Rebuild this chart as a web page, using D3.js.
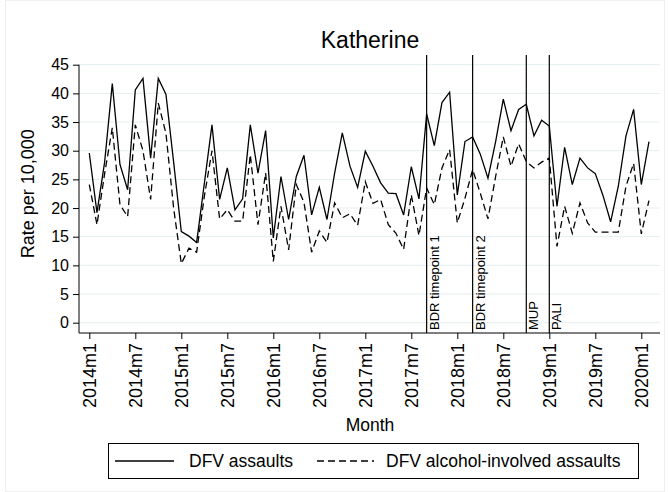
<!DOCTYPE html>
<html>
<head>
<meta charset="utf-8">
<script src="https://cdn.jsdelivr.net/npm/d3@7"></script>
<style>
  body { margin: 0; background: #fff; }
  text { font-family: "Liberation Sans", Arial, sans-serif; fill: #000; }
</style>
</head>
<body>
<script>
// monthly rates, 2014m1 .. 2020m2
const startYear = 2014;
const assaults = [
  29.6, 19.2, 28.0, 41.7, 27.6, 23.2, 40.6, 42.6, 28.7, 42.6, 39.8, 28.0,
  15.9, 15.1, 14.0, 24.2, 34.5, 21.5, 27.0, 19.7, 21.6, 34.5, 26.1, 33.5,
  14.8, 25.5, 18.0, 25.5, 29.2, 18.8, 23.6, 18.0, 26.1, 33.1, 27.3, 23.6,
  29.9, 27.3, 24.4, 22.6, 22.5, 18.8, 27.2, 21.6, 36.4, 30.9, 38.4, 40.2,
  22.3, 31.6, 32.4, 29.4, 25.2, 31.6, 39.0, 33.5, 37.2, 38.1, 32.6, 35.3,
  34.3, 20.3, 30.6, 24.1, 28.7, 27.0, 26.0, 22.2, 17.6, 23.8, 32.6, 37.2,
  24.1, 31.6
];
const alcohol = [
  24.1, 17.1, 26.0, 34.0, 20.6, 18.5, 34.5, 30.0, 21.5, 38.3, 33.0, 20.0,
  10.3, 13.0, 12.3, 22.0, 30.0, 18.1, 19.7, 17.7, 17.7, 29.3, 17.1, 26.1,
  10.7, 20.3, 12.7, 24.1, 21.0, 12.3, 16.0, 14.0, 20.9, 18.3, 19.0, 17.0,
  24.6, 20.8, 21.5, 17.1, 15.6, 12.8, 22.3, 15.2, 23.5, 20.6, 27.0, 30.2,
  17.4, 21.7, 26.7, 22.6, 18.1, 25.5, 32.4, 27.3, 31.2, 28.1, 27.0, 28.0,
  28.7, 13.3, 20.3, 15.6, 20.9, 17.4, 15.8, 15.8, 15.8, 15.8, 23.8, 27.8,
  15.5, 21.3
];
const yTicks = [0, 5, 10, 15, 20, 25, 30, 35, 40, 45];
const xTickMonths = [0, 6, 12, 18, 24, 30, 36, 42, 48, 54, 60, 66, 72];
const events = [
  { m: 44, label: "BDR timepoint 1" },
  { m: 50, label: "BDR timepoint 2" },
  { m: 57, label: "MUP" },
  { m: 60, label: "PALI" }
];

const width = 670, height = 492;
const plot = { left: 79, right: 660, top: 55, bottom: 333 };

const svg = d3.select("body").append("svg")
  .attr("width", width)
  .attr("height", height);

// faint outer graph region border
svg.append("rect")
  .attr("x", 5.5).attr("y", 0.5)
  .attr("width", width - 11).attr("height", height - 1)
  .attr("fill", "none").attr("stroke", "#f0f0f0");

const x = d3.scaleLinear().domain([0, 72]).range([89.3, 641.3]);
const y = d3.scaleLinear().domain([0, 45]).range([322.7, 64.7]);

const monthLabel = m => `${startYear + Math.floor(m / 12)}m${(m % 12) + 1}`;

// gridlines
svg.append("g")
  .selectAll("line")
  .data(yTicks)
  .join("line")
  .attr("x1", plot.left).attr("x2", plot.right)
  .attr("y1", d => y(d)).attr("y2", d => y(d))
  .attr("stroke", "#e6eef1")
  .attr("stroke-width", 1);

// y axis
const yAxis = d3.axisLeft(y).tickValues(yTicks).tickSize(6).tickPadding(4);
const gy = svg.append("g")
  .attr("transform", `translate(${plot.left},0)`)
  .call(yAxis);
gy.select(".domain").remove();
gy.selectAll("text").style("font-size", "16px").attr("font-family", null);
svg.append("line")
  .attr("x1", plot.left).attr("x2", plot.left)
  .attr("y1", y(45)).attr("y2", plot.bottom)
  .attr("stroke", "#000");

// x axis
const xAxis = d3.axisBottom(x).tickValues(xTickMonths).tickSize(6).tickPadding(4)
  .tickFormat(monthLabel);
const gx = svg.append("g")
  .attr("transform", `translate(0,${plot.bottom})`)
  .call(xAxis);
gx.select(".domain").attr("d", `M${plot.left},0H${plot.right}`);
gx.selectAll("text")
  .style("font-size", "18px")
  .attr("font-family", null)
  .attr("transform", "rotate(-90)")
  .attr("text-anchor", "end")
  .attr("x", -10)
  .attr("y", 0)
  .attr("dy", "0.35em");

// event lines
const ev = svg.append("g").selectAll("g").data(events).join("g");
ev.append("line")
  .attr("x1", d => x(d.m)).attr("x2", d => x(d.m))
  .attr("y1", plot.top).attr("y2", plot.bottom)
  .attr("stroke", "#000").attr("stroke-width", 1.2);
ev.append("text")
  .attr("transform", d => `translate(${x(d.m) + 12},${plot.bottom - 3}) rotate(-90)`)
  .style("font-size", "13px")
  .text(d => d.label);

// series
const line = d3.line()
  .x((d, i) => x(i))
  .y(d => y(d));

svg.append("path")
  .datum(alcohol)
  .attr("d", line)
  .attr("fill", "none")
  .attr("stroke", "#000")
  .attr("stroke-width", 1.3)
  .attr("stroke-dasharray", "7,4");

svg.append("path")
  .datum(assaults)
  .attr("d", line)
  .attr("fill", "none")
  .attr("stroke", "#000")
  .attr("stroke-width", 1.3);

// title and axis titles
svg.append("text")
  .attr("x", 370).attr("y", 48)
  .attr("text-anchor", "middle")
  .style("font-size", "23px")
  .text("Katherine");

svg.append("text")
  .attr("transform", `translate(34,${(y(0) + y(45)) / 2}) rotate(-90)`)
  .attr("text-anchor", "middle")
  .style("font-size", "18px")
  .text("Rate per 10,000");

svg.append("text")
  .attr("x", 370).attr("y", 431)
  .attr("text-anchor", "middle")
  .style("font-size", "17.5px")
  .text("Month");

// legend
const legend = svg.append("g");
legend.append("rect")
  .attr("x", 108.5).attr("y", 443.5)
  .attr("width", 530).attr("height", 35)
  .attr("fill", "#fff").attr("stroke", "#000");
const legendItems = [
  { label: "DFV assaults", x1: 115, x2: 174, tx: 189, dash: null },
  { label: "DFV alcohol-involved assaults", x1: 317, x2: 374, tx: 386, dash: "7,4" }
];
legendItems.forEach(d => {
  legend.append("line")
    .attr("x1", d.x1).attr("x2", d.x2)
    .attr("y1", 461).attr("y2", 461)
    .attr("stroke", "#000").attr("stroke-width", 1.3)
    .attr("stroke-dasharray", d.dash);
  legend.append("text")
    .attr("x", d.tx).attr("y", 461)
    .attr("dy", "0.35em")
    .style("font-size", "17.5px")
    .text(d.label);
});
</script>
</body>
</html>
